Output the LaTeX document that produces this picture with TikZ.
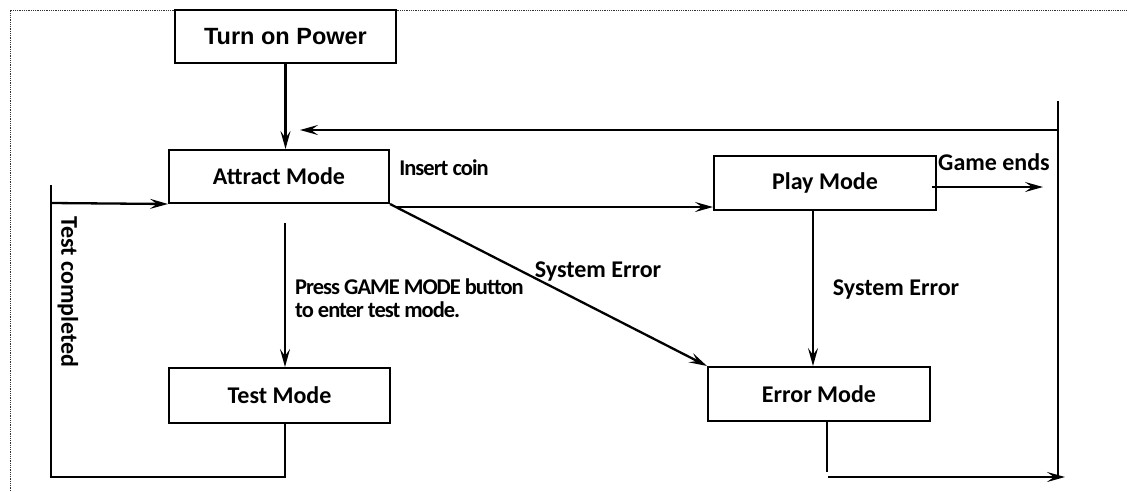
\documentclass[tikz,border=0pt]{standalone}
\usepackage{fontspec}
\setmainfont{Carlito}
\newfontfamily\arialf{Liberation Sans}
\newfontfamily\condf{Carlito}[LetterSpace=-4.5]
\usetikzlibrary{arrows.meta,positioning,calc}
\begin{document}
\begin{tikzpicture}[x=1pt,y=-1pt,
  box/.style={draw,line width=2pt,inner sep=0pt,font=\bfseries\fontsize{24}{26}\selectfont},
  conn/.style={line width=2.3pt},
  arr/.style={conn,-{Stealth[length=18pt,width=10pt,inset=7pt]}},
  lbl/.style={inner sep=0pt,font=\bfseries\fontsize{24}{26}\selectfont},
  clbl/.style={inner sep=0pt,font=\condf\bfseries\fontsize{22.5}{23}\selectfont}]
\useasboundingbox (0,0) rectangle (1127,491);
\draw[line width=0.9pt,dash pattern=on 0.9pt off 0.9pt,black!80] (10,491) -- (10,10) -- (1126,10);
% boxes
\node[box,minimum width=221pt,minimum height=53pt,font=\arialf\bfseries\fontsize{23.5}{26}\selectfont] (power) at (285.5,36.5) {Turn on Power};
\node[box,minimum width=220pt,minimum height=53pt] (attract) at (279,176.5) {Attract Mode};
\node[box,minimum width=221pt,minimum height=55pt] (test) at (279.5,395.5) {Test Mode};
\node[box,minimum width=222pt,minimum height=54pt] (play) at (825,183) {Play Mode};
\node[box,minimum width=222pt,minimum height=54pt] (error) at (819,394) {Error Mode};
% coordinates
\coordinate (rtop) at (1058,101);
\coordinate (rbot) at (1058,477);
\coordinate (rret) at (1058,130);
\coordinate (rretend) at (300,130);
\coordinate (ins) at (397,207);
\coordinate (tstart) at (285,223);
\coordinate (tdown) at (285,477);
\coordinate (lbot) at (51,477);
\coordinate (ltop) at (51,185);
\coordinate (lin) at (51,203);
\coordinate (pe) at (813,210);
\coordinate (gstart) at (932,187);
\coordinate (gend) at (1043,187);
\coordinate (edown) at (827,477);
\coordinate (eend) at (1065,477);
% connectors
\draw[arr] (power.south) -- (power.south |- attract.north);
\draw[conn] (rtop) -- (rbot);
\draw[arr] (rret) -- (rretend);
\draw[arr] (ins) -- (ins -| play.west);
\draw[arr] (attract.south east) -- (error.north west);
\draw[arr] (tstart) -- (tstart |- test.north);
\draw[conn] (test.south -| tdown) -- (tdown) -- (lbot) -- (ltop);
\draw[arr] (lin) -- (attract.south west);
\draw[arr] (pe) -- (pe |- error.north);
\draw[arr] (gstart) -- (gend);
\draw[conn] (error.south -| edown) -- ([yshift=5pt]edown);
\draw[arr] ([xshift=1pt]edown) -- (eend);
% labels
\node[clbl] (lins) at (444,168) {Insert coin};
\node[lbl] (lsys1) at (598,272) {System Error};
\node[clbl,anchor=west,align=left] (lpress) at (295,298) {Press GAME MODE button\\to enter test mode.};
\node[lbl] (lsys2) at (896,290) {System Error};
\node[lbl] (lgame) at (994,162) {Game ends};
\node[lbl,rotate=-90] (ltest) at (68,292) {Test completed};
\end{tikzpicture}
\end{document}
